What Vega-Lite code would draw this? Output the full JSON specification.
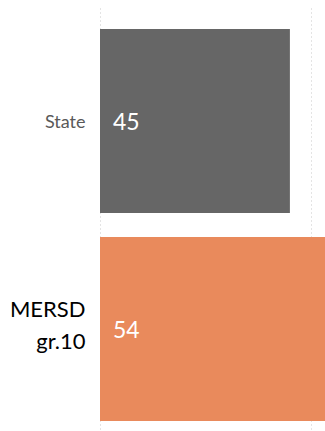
{
  "$schema": "https://vega.github.io/schema/vega-lite/v6.json",
  "autosize": "none",
  "width": 211,
  "height": 440,
  "padding": {"left": 100, "top": 5, "right": 14, "bottom": 0},
  "background": "white",
  "config": {"view": {"stroke": null}, "font": "Lato"},
  "data": {"values": [
    {"group": "State", "value": 45},
    {"group": "MERSD gr.10", "value": 54}
  ]},
  "encoding": {
    "y": {
      "field": "group", "type": "nominal", "sort": null,
      "scale": {"paddingInner": 0.1154, "paddingOuter": 0.1154},
      "axis": {
        "title": null, "domain": false, "ticks": false, "labelPadding": 15,
        "labelFont": "Lato",
        "labelExpr": "datum.value == 'MERSD gr.10' ? ['MERSD', 'gr.10'] : datum.value",
        "labelFontSize": {"condition": {"test": "datum.value == 'State'", "value": 18}, "value": 22},
        "labelColor": {"condition": {"test": "datum.value == 'State'", "value": "#595959"}, "value": "#000000"},
        "labelOffset": {"condition": {"test": "datum.value == 'State'", "value": 2}, "value": -19},
        "labelLineHeight": 32
      }
    }
  },
  "layer": [
    {
      "mark": {"type": "bar"},
      "encoding": {
        "x": {
          "field": "value", "type": "quantitative",
          "scale": {"domain": [0, 50], "clamp": false},
          "axis": {
            "title": null, "labels": false, "ticks": false, "domain": false,
            "values": [0, 50], "grid": true, "gridColor": "#c8c8c8", "gridDash": [1, 3], "gridWidth": 1
          }
        },
        "color": {
          "field": "group", "type": "nominal",
          "scale": {"domain": ["State", "MERSD gr.10"], "range": ["#666666", "#E98A5C"]},
          "legend": null
        }
      }
    },
    {
      "mark": {"type": "text", "align": "left", "dx": 13, "dy": 2, "fontSize": 23, "color": "white", "font": "Lato"},
      "encoding": {
        "x": {"datum": 0, "type": "quantitative"},
        "text": {"field": "value", "type": "quantitative"}
      }
    }
  ]
}
